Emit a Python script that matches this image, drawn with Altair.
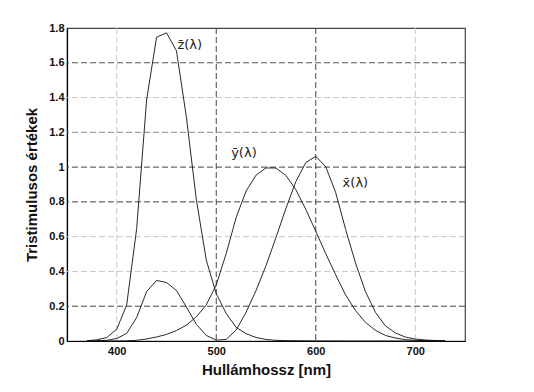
import altair as alt
import pandas as pd

wavelength = [370, 380, 390, 400, 410, 420, 430, 440, 450, 460, 470, 480, 490, 500,
              510, 520, 530, 540, 550, 560, 570, 580, 590, 600, 610, 620, 630, 640,
              650, 660, 670, 680, 690, 700, 710, 720, 730]
xbar = [0.0004, 0.0014, 0.0042, 0.0143, 0.0435, 0.1344, 0.2839, 0.3483, 0.3362, 0.2908,
        0.1954, 0.0956, 0.0320, 0.0049, 0.0093, 0.0633, 0.1655, 0.2904, 0.4334, 0.5945,
        0.7621, 0.9163, 1.0263, 1.0622, 1.0026, 0.8544, 0.6424, 0.4479, 0.2835, 0.1649,
        0.0874, 0.0468, 0.0227, 0.0114, 0.0058, 0.0029, 0.0014]
ybar = [0.0000, 0.0000, 0.0001, 0.0004, 0.0012, 0.0040, 0.0116, 0.0230, 0.0380, 0.0600,
        0.0910, 0.1390, 0.2080, 0.3230, 0.5030, 0.7100, 0.8620, 0.9540, 0.9950, 0.9950,
        0.9520, 0.8700, 0.7570, 0.6310, 0.5030, 0.3810, 0.2650, 0.1750, 0.1070, 0.0610,
        0.0320, 0.0170, 0.0082, 0.0041, 0.0021, 0.0010, 0.0005]
zbar = [0.0019, 0.0065, 0.0201, 0.0679, 0.2074, 0.6456, 1.3856, 1.7471, 1.7721, 1.6692,
        1.2876, 0.8130, 0.4652, 0.2720, 0.1582, 0.0782, 0.0422, 0.0203, 0.0087, 0.0039,
        0.0021, 0.0017, 0.0011, 0.0008, 0.0003, 0.0002, 0.0000, 0.0000, 0.0000, 0.0000,
        0.0000, 0.0000, 0.0000, 0.0000, 0.0000, 0.0000, 0.0000]

label_text = ["z\u0304(\u03bb)", "y\u0304(\u03bb)", "x\u0304(\u03bb)"]
label_x = [461, 515, 627]
label_y = [1.70, 1.08, 0.91]

x_ticks = [400, 500, 600, 700]
y_ticks = [0, 0.2, 0.4, 0.6, 0.8, 1.0, 1.2, 1.4, 1.6, 1.8]

x_grid = [400, 500, 600, 700]
x_grid_shade = ["#c8c8c8", "#444444", "#444444", "#c8c8c8"]
y_grid = [0.2, 0.4, 0.6, 0.8, 1.0, 1.2, 1.4, 1.6]
y_grid_shade = ["#444444", "#c8c8c8", "#c8c8c8", "#444444", "#444444", "#8a8a8a", "#c8c8c8", "#555555"]

df = pd.DataFrame({"wl": wavelength, "x": xbar, "y": ybar, "z": zbar})
long = df.melt(id_vars="wl", var_name="series", value_name="val")

xs = alt.Scale(domain=[350, 750], nice=False, zero=False)
ys = alt.Scale(domain=[0, 1.8], nice=False)

FONT = "Liberation Sans"

xaxis = alt.Axis(values=x_ticks, grid=False, ticks=False, labelPadding=4, labelOverlap=False,
                 labelFont=FONT, labelFontWeight="bold", labelFontSize=11, labelColor="#111",
                 title="Hullámhossz [nm]", titleFont=FONT, titleFontSize=15,
                 titleFontWeight="bold", titleColor="#111", titlePadding=6,
                 domainColor="#000", domainWidth=1.2)
yaxis = alt.Axis(values=y_ticks, grid=False, ticks=False, labelPadding=3, labelOverlap=False,
                 labelExpr="datum.value == 0 ? '0' : (datum.value == 1 ? '1' : format(datum.value, '.1f'))",
                 labelFont=FONT, labelFontWeight="bold", labelFontSize=11, labelColor="#111",
                 title="Tristimulusos értékek", titleFont=FONT, titleFontSize=15,
                 titleFontWeight="bold", titleColor="#111", titlePadding=9,
                 domainColor="#000", domainWidth=1.2)

gx = alt.Chart(pd.DataFrame({"gv": x_grid, "c": x_grid_shade})).mark_rule(
    strokeDash=[6, 3], strokeWidth=1).encode(
    x=alt.X("gv:Q", scale=xs, axis=xaxis), color=alt.Color("c:N", scale=None))
gy = alt.Chart(pd.DataFrame({"hv": y_grid, "c": y_grid_shade})).mark_rule(
    strokeDash=[6, 3], strokeWidth=1).encode(
    y=alt.Y("hv:Q", scale=ys, axis=yaxis), color=alt.Color("c:N", scale=None))

lines = alt.Chart(long).mark_line(color="#111", strokeWidth=0.9).encode(
    x=alt.X("wl:Q", scale=xs, axis=xaxis),
    y=alt.Y("val:Q", scale=ys, axis=yaxis),
    detail="series:N",
)

labels = alt.Chart(pd.DataFrame({"t": label_text, "lx": label_x, "ly": label_y})).mark_text(
    align="left", baseline="middle", font="DejaVu Sans", fontSize=13, color="#222").encode(
    x=alt.X("lx:Q", scale=xs, axis=xaxis), y=alt.Y("ly:Q", scale=ys, axis=yaxis), text="t:N")

chart = alt.layer(gx, gy, lines, labels).properties(
    width=398, height=313,
    autosize=alt.AutoSizeParams(type="none"),
    padding={"left": 59, "top": 20, "right": 61, "bottom": 51},
    background="white",
).configure_view(stroke="#444", strokeWidth=1.2)

chart.save("out.html", embed_options={"renderer": "svg", "actions": False})
